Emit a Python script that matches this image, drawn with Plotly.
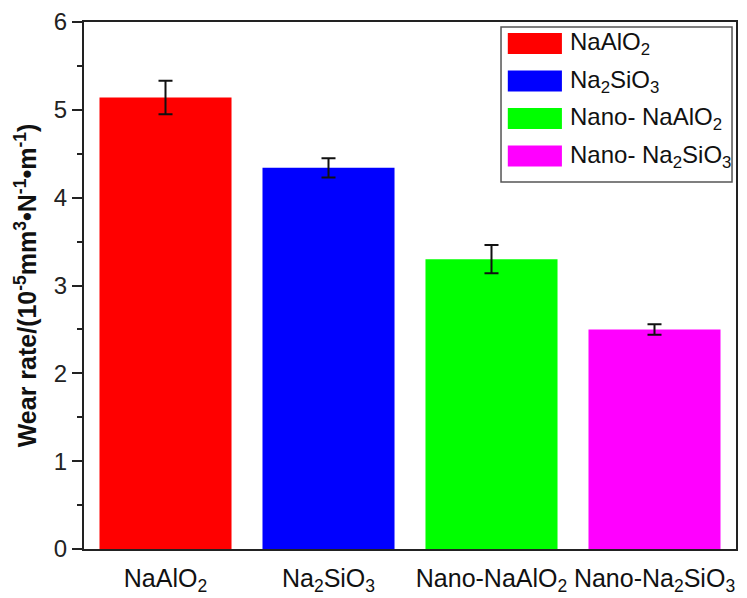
import plotly.graph_objects as go

# Wear rate data (10^-5 mm^3 N^-1 m^-1)
categories = ["NaAlO<sub>2</sub>", "Na<sub>2</sub>SiO<sub>3</sub>",
              "Nano-NaAlO<sub>2</sub>", "Nano-Na<sub>2</sub>SiO<sub>3</sub>"]
legend_names = ["NaAlO<sub>2</sub>", "Na<sub>2</sub>SiO<sub>3</sub>",
                "Nano- NaAlO<sub>2</sub>", "Nano- Na<sub>2</sub>SiO<sub>3</sub>"]
wear_rate = [5.14, 4.34, 3.30, 2.50]
wear_err = [0.19, 0.11, 0.16, 0.06]
colors = ["#FF0000", "#0000FF", "#00FF00", "#FF00FF"]
positions = [1, 2, 3, 4]

FONT = "Liberation Sans, Arial, sans-serif"

fig = go.Figure()
fig.add_trace(go.Bar(
    x=positions, y=wear_rate, width=0.81,
    marker=dict(color=colors, line=dict(width=0)),
    error_y=dict(type="data", array=wear_err, color="#111111",
                 thickness=2, width=7),
    showlegend=False,
))

# Boxed legend with large colour swatches
lg_x0, lg_x1, lg_y0, lg_y1 = 0.6396, 0.9939, 0.6964, 0.9905
sw_x0, sw_x1 = 0.650, 0.733
row_y = [0.9592, 0.8880, 0.8169, 0.7457]
sw_h = 0.0400
shapes = [dict(type="rect", xref="paper", yref="paper",
               x0=lg_x0, x1=lg_x1, y0=lg_y0, y1=lg_y1,
               line=dict(color="#555555", width=1.5), fillcolor="white")]
annotations = []
for name, c, ry in zip(legend_names, colors, row_y):
    shapes.append(dict(type="rect", xref="paper", yref="paper",
                       x0=sw_x0, x1=sw_x1, y0=ry - sw_h / 2, y1=ry + sw_h / 2,
                       line=dict(width=0), fillcolor=c))
    annotations.append(dict(xref="paper", yref="paper", x=0.7420, y=ry,
                            xanchor="left", yanchor="middle", text=name,
                            showarrow=False,
                            font=dict(family=FONT, size=24, color="#111111")))

fig.update_layout(
    width=747, height=598,
    margin=dict(l=84, r=11, t=22, b=49),
    paper_bgcolor="white", plot_bgcolor="white",
    font=dict(family=FONT, size=24, color="#111111"),
    shapes=shapes, annotations=annotations,
    xaxis=dict(
        range=[0.5, 4.5], tickvals=positions, ticktext=categories,
        showgrid=False, zeroline=False, ticks="", automargin=False,
        showline=True, linecolor="#222222", linewidth=2, mirror=True,
        ticklabelstandoff=6,
        tickfont=dict(family=FONT, size=25, color="#111111"),
    ),
    yaxis=dict(
        range=[0, 6], tickvals=[0, 1, 2, 3, 4, 5, 6], automargin=False,
        showgrid=False, zeroline=False,
        ticks="outside", ticklen=10, tickwidth=2, tickcolor="#222222",
        minor=dict(dtick=0.5, ticks="outside", ticklen=5, tickwidth=2,
                   tickcolor="#222222", showgrid=False),
        showline=True, linecolor="#222222", linewidth=2, mirror=True,
        ticklabelstandoff=0,
        tickfont=dict(family=FONT, size=24, color="#222222"),
        title=dict(text="<b>Wear rate/(10<sup>-5</sup>mm<sup>3</sup>•N<sup>-1</sup>•m<sup>-1</sup>)</b>",
                   font=dict(family=FONT, size=25, color="#111111"),
                   standoff=10),
    ),
)

fig.write_html("out.html")
